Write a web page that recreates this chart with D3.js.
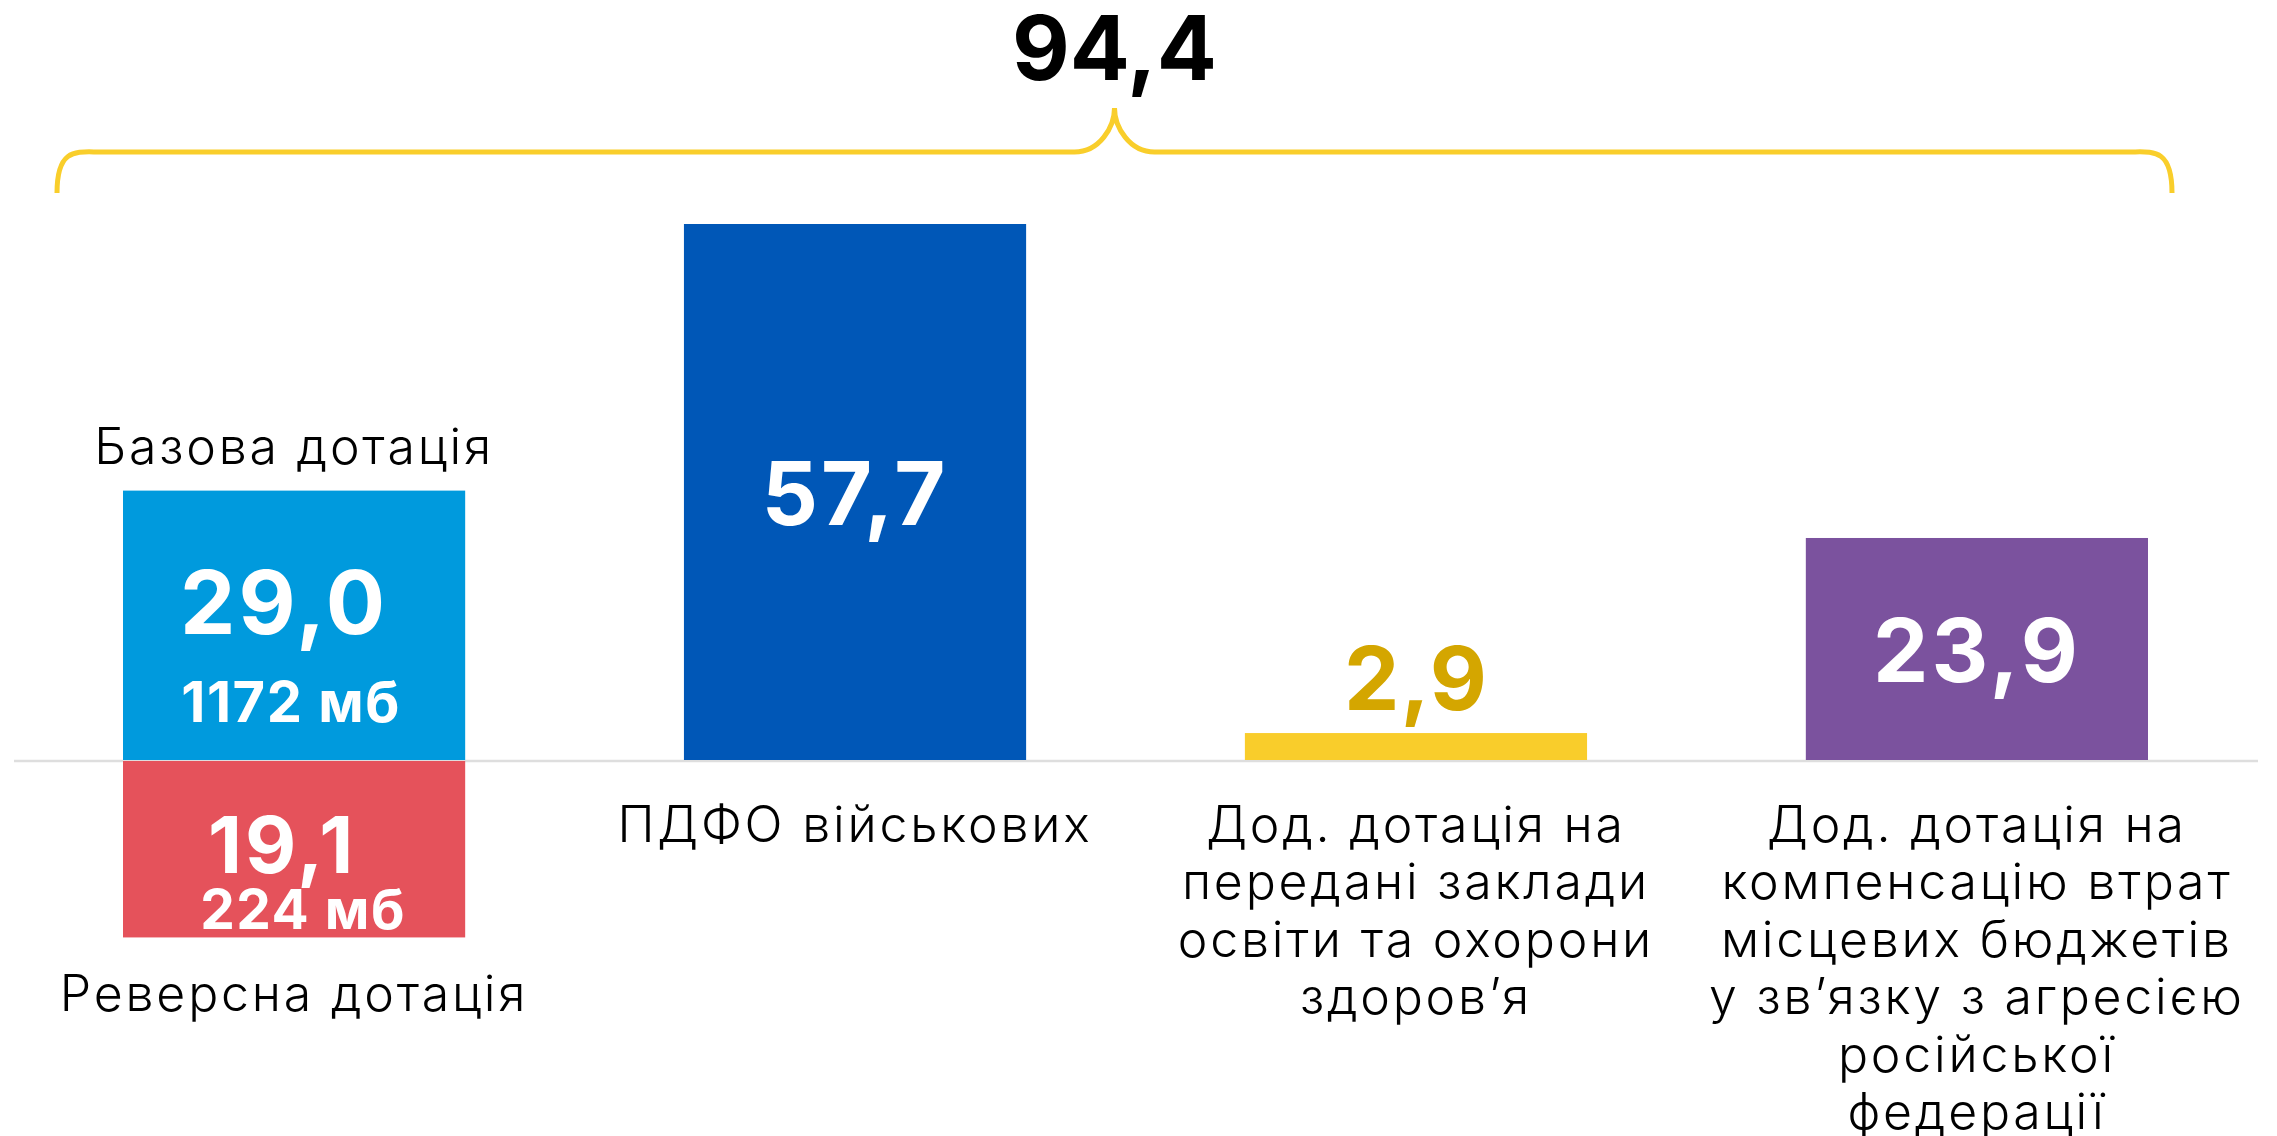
<!DOCTYPE html>
<html>
<head>
<meta charset="utf-8">
<script src="https://cdn.jsdelivr.net/npm/d3@7"></script>
<style>
  html, body { margin: 0; padding: 0; background: #fff; }
  svg { display: block; }
  .num { font-family: Inter, "Open Sans", sans-serif; font-weight: 700; }
  .lbl { font-family: Inter, "Open Sans", sans-serif; font-weight: 350; fill: #000; letter-spacing: 2.8px; }
</style>
</head>
<body>
<div id="chart"></div>
<script>
// дані (млрд грн)
const categories = ["base", "pdfo", "edu", "comp"];
const posValues = [29.0, 57.7, 2.9, 23.9];
const negValues = [-19.1, 0, 0, 0];
const subLabels = ["1172 мб", "", "", ""];
const negSubLabels = ["224 мб", "", "", ""];
const topLabels = ["Базова дотація", "", "", ""];
const bottomLabels = [
    ["Реверсна дотація"],
    ["ПДФО військових"],
    ["Дод. дотація на", "передані заклади", "освіти та охорони", "здоров’я"],
    ["Дод. дотація на", "компенсацію втрат", "місцевих бюджетів", "у зв’язку з агресією", "російської", "федерації"]
];
const barColors = ["#009ADD", "#0057B7", "#F9CD2B", "#7B529E"];
const valueColors = ["#fff", "#fff", "#D4A600", "#fff"];
const negColor = "#E5525B";
const total = 94.4;

const width = 2277, height = 1136;
const fmt = v => d3.format(".1f")(Math.abs(v)).replace(".", ",");

const svg = d3.select("#chart").append("svg")
    .attr("width", width)
    .attr("height", height);

const x = d3.scaleBand()
    .domain(categories)
    .range([123, 2148])
    .paddingInner(0.39)
    .paddingOuter(0);

const y = d3.scaleLinear()
    .domain([0, 57.7])
    .range([760, 224]);

const data = categories.map((c, i) => ({
    key: c, pos: posValues[i], neg: negValues[i],
    sub: subLabels[i], negSub: negSubLabels[i],
    top: topLabels[i], bottom: bottomLabels[i],
    color: barColors[i], vcolor: valueColors[i]
}));

// базова лінія
svg.append("line")
    .attr("x1", 14).attr("x2", 2258)
    .attr("y1", y(0) + 1).attr("y2", y(0) + 1)
    .attr("stroke", "#DEDEDE")
    .attr("stroke-width", 2.5);

const g = svg.selectAll("g.col")
    .data(data)
    .join("g")
    .attr("class", "col");

g.append("rect")
    .attr("x", d => x(d.key))
    .attr("y", d => y(d.pos))
    .attr("width", x.bandwidth())
    .attr("height", d => y(0) - y(d.pos))
    .attr("fill", d => d.color);

g.filter(d => d.neg < 0).append("rect")
    .attr("x", d => x(d.key))
    .attr("y", y(0) + 1)
    .attr("width", x.bandwidth())
    .attr("height", d => y(d.neg) - y(0) - 1)
    .attr("fill", negColor);

const cx = d => x(d.key) + x.bandwidth() / 2;

// значення
g.append("text")
    .attr("class", "num")
    .attr("text-anchor", "middle")
    .attr("x", d => d.sub ? cx(d) - 10 : cx(d))
    .attr("y", d => {
        if (d.sub) return y(d.pos) + 143;
        if (d.pos < 5) return y(d.pos) - 23;
        return (y(d.pos) + y(0)) / 2 + 33;
    })
    .attr("font-size", 88)
    .attr("letter-spacing", d => d.pos < 5 ? 1 : 3)
    .attr("fill", d => d.vcolor)
    .text(d => fmt(d.pos));

g.filter(d => d.sub).append("text")
    .attr("class", "num")
    .attr("text-anchor", "middle")
    .attr("x", d => cx(d) - 3)
    .attr("y", d => y(d.pos) + 231)
    .attr("font-size", 56)
    .attr("letter-spacing", 1.5)
    .attr("fill", "#fff")
    .text(d => d.sub);

g.filter(d => d.neg < 0).append("text")
    .attr("class", "num")
    .attr("text-anchor", "middle")
    .attr("x", d => cx(d) - 12)
    .attr("y", y(0) + 113)
    .attr("font-size", 79)
    .attr("letter-spacing", 3)
    .attr("fill", "#fff")
    .text(d => fmt(d.neg));

g.filter(d => d.negSub).append("text")
    .attr("class", "num")
    .attr("text-anchor", "middle")
    .attr("x", d => cx(d) + 9)
    .attr("y", y(0) + 169)
    .attr("font-size", 55)
    .attr("letter-spacing", 1.5)
    .attr("fill", "#fff")
    .text(d => d.negSub);

// підписи
g.filter(d => d.top).append("text")
    .attr("class", "lbl")
    .attr("text-anchor", "middle")
    .attr("x", cx)
    .attr("y", d => y(d.pos) - 27)
    .attr("font-size", 50)
    .text(d => d.top);

g.append("text")
    .attr("class", "lbl")
    .attr("text-anchor", "middle")
    .attr("font-size", 50)
    .attr("y", d => y(d.neg) + (d.neg < 0 ? 74 : 82))
    .selectAll("tspan")
    .data(d => d.bottom.map(t => ({ t, x: cx(d) })))
    .join("tspan")
    .attr("x", d => d.x)
    .attr("dy", (d, i) => i === 0 ? 0 : 57.4)
    .text(d => d.t);

// фігурна дужка з сумою
const bx0 = 57, bx1 = 2172, bm = (bx0 + bx1) / 2;
const by = 152, bEnd = 193, bPeak = 108;
const brace = d3.path();
brace.moveTo(bx0, bEnd);
brace.bezierCurveTo(bx0, by - 5, bx0 + 20, by, bx0 + 43, by);
brace.lineTo(bm - 40, by);
brace.bezierCurveTo(bm - 15, by, bm, by - 25, bm, bPeak);
brace.bezierCurveTo(bm, by - 25, bm + 15, by, bm + 40, by);
brace.lineTo(bx1 - 43, by);
brace.bezierCurveTo(bx1 - 20, by, bx1, by - 5, bx1, bEnd);
svg.append("path")
    .attr("d", brace.toString())
    .attr("fill", "none")
    .attr("stroke", "#F9CE2B")
    .attr("stroke-width", 5);

svg.append("text")
    .attr("class", "num")
    .attr("text-anchor", "middle")
    .attr("x", bm)
    .attr("y", 80)
    .attr("font-size", 89)
    .attr("fill", "#000")
    .text(fmt(total));
</script>
</body>
</html>
